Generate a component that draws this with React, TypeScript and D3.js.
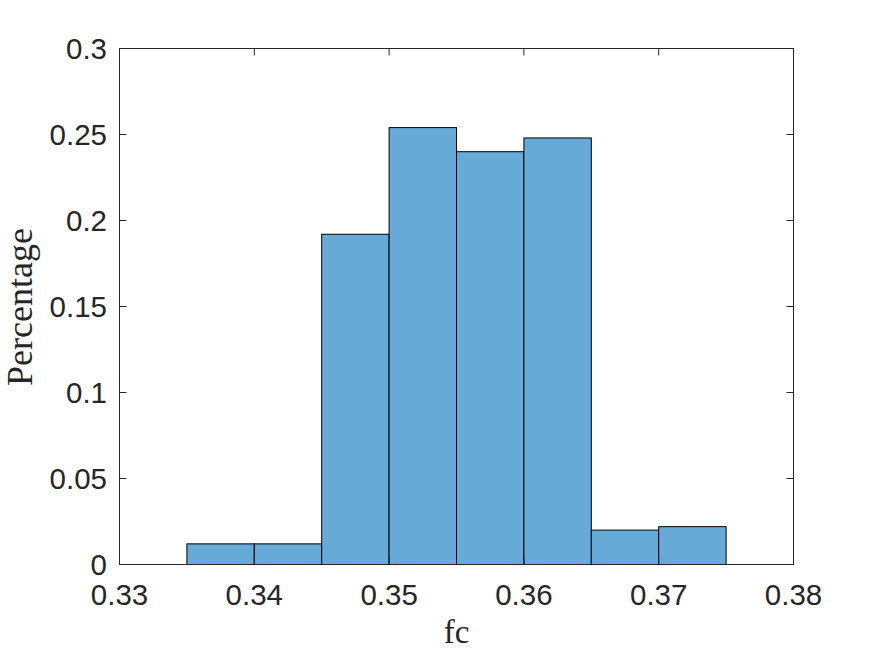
import React from "react";
import * as d3 from "d3";

const binEdgesLeft = [0.335, 0.34, 0.345, 0.35, 0.355, 0.36, 0.365, 0.37];
const binWidth = 0.005;
const binValues = [0.012, 0.012, 0.192, 0.254, 0.24, 0.248, 0.02, 0.022];
const xTicks = [0.33, 0.34, 0.35, 0.36, 0.37, 0.38];
const yTicks = [0, 0.05, 0.1, 0.15, 0.2, 0.25, 0.3];
const xTickLabels = ["0.33", "0.34", "0.35", "0.36", "0.37", "0.38"];
const yTickLabels = ["0", "0.05", "0.1", "0.15", "0.2", "0.25", "0.3"];

const W = 875;
const H = 656;
const L = 119.5, R = 793.5, T = 48.5, B = 564.5;

export default function App() {
  const x = d3.scaleLinear().domain([0.33, 0.38]).range([L, R]);
  const y = d3.scaleLinear().domain([0, 0.3]).range([B, T]);
  const tick = 7;
  const axisColor = "#262626";
  const tickFont = "'Liberation Sans', Arial, Helvetica, sans-serif";
  return (
    <svg width={W} height={H} style={{ position: "absolute", left: 0, top: 0, background: "#fff" }}>
      <rect x={0} y={0} width={W} height={H} fill="#fff" />
      {binValues.map((v, i) => (
        <rect
          key={i}
          x={x(binEdgesLeft[i])}
          y={y(v)}
          width={x(binEdgesLeft[i] + binWidth) - x(binEdgesLeft[i])}
          height={y(0) - y(v)}
          fill="#66AAD7"
          stroke="#000"
          strokeWidth={1}
        />
      ))}
      <rect x={L} y={T} width={R - L} height={B - T} fill="none" stroke={axisColor} strokeWidth={1} />
      {xTicks.map((t, i) => (
        <g key={"x" + i}>
          <line x1={x(t)} x2={x(t)} y1={B} y2={B - tick} stroke={axisColor} />
          <line x1={x(t)} x2={x(t)} y1={T} y2={T + tick} stroke={axisColor} />
          <text x={x(t)} y={605} textAnchor="middle" fontFamily={tickFont} fontSize={29.5} fill={axisColor}>
            {xTickLabels[i]}
          </text>
        </g>
      ))}
      {yTicks.map((t, i) => (
        <g key={"y" + i}>
          <line x1={L} x2={L + tick} y1={y(t)} y2={y(t)} stroke={axisColor} />
          <line x1={R} x2={R - tick} y1={y(t)} y2={y(t)} stroke={axisColor} />
          <text x={107} y={y(t)} dy="0.36em" textAnchor="end" fontFamily={tickFont} fontSize={29.5} fill={axisColor}>
            {yTickLabels[i]}
          </text>
        </g>
      ))}
      <text x={(L + R) / 2} y={643} textAnchor="middle" fontFamily="'Liberation Serif', 'DejaVu Serif', serif" fontSize={33} fill={axisColor}>
        fc
      </text>
      <text
        transform={`translate(32, ${307}) rotate(-90)`}
        textAnchor="middle"
        fontFamily="'Liberation Serif', 'DejaVu Serif', serif"
        fontSize={36}
        fill={axisColor}
      >
        Percentage
      </text>
    </svg>
  );
}
